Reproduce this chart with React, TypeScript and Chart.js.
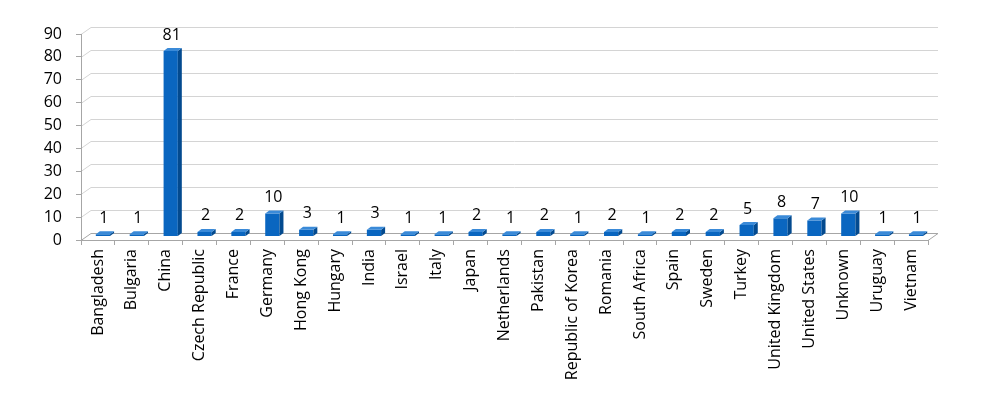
import React, { useEffect, useRef } from "react";
import { Chart, registerables } from "chart.js";

Chart.register(...registerables);

const categories = [
  "Bangladesh", "Bulgaria", "China", "Czech Republic", "France", "Germany",
  "Hong Kong", "Hungary", "India", "Israel", "Italy", "Japan", "Netherlands",
  "Pakistan", "Republic of Korea", "Romania", "South Africa", "Spain", "Sweden",
  "Turkey", "United Kingdom", "United States", "Unknown", "Uruguay", "Vietnam",
];
const counts = [1, 1, 81, 2, 2, 10, 3, 1, 3, 1, 1, 2, 1, 2, 1, 2, 1, 2, 2, 5, 8, 7, 10, 1, 1];
const yMin = 0;
const yMax = 90;
const yStep = 10;

const FONT = "'Open Sans', sans-serif";
const FONT_SIZE = 16;
const WALL_DX = 10;
const WALL_DY = -7;
const BAR_SHIFT_X = 5;
const BAR_SHIFT_Y = -3.5;
const BAR_DX = 4;
const BAR_DY = -3;
const FRONT = "#0a66c0";
const SIDE = "#034a8f";
const TOP = "#3a8ad8";
const GRID = "#d4d4d4";
const AXIS = "#a6a6a6";

const depthPlugin = {
  id: "depth3d",
  beforeDraw(chart: any) {
    const { ctx, chartArea } = chart;
    const ys = chart.scales.y;
    const { left, right } = chartArea;
    ctx.save();
    ctx.lineWidth = 1;
    ctx.strokeStyle = GRID;
    for (let v = yMin + yStep; v <= yMax; v += yStep) {
      const y = Math.round(ys.getPixelForValue(v)) + 0.5;
      ctx.beginPath();
      ctx.moveTo(left, y);
      ctx.lineTo(left + WALL_DX, y + WALL_DY);
      ctx.lineTo(right + WALL_DX, y + WALL_DY);
      ctx.stroke();
    }
    const y0 = Math.round(ys.getPixelForValue(yMin)) + 0.5;
    ctx.strokeStyle = AXIS;
    ctx.beginPath();
    ctx.moveTo(left, y0);
    ctx.lineTo(left + WALL_DX, y0 + WALL_DY);
    ctx.lineTo(right + WALL_DX, y0 + WALL_DY);
    ctx.lineTo(right, y0);
    ctx.stroke();
    ctx.restore();
  },
  beforeDatasetsDraw(chart: any) {
    chart.ctx.save();
    chart.ctx.translate(BAR_SHIFT_X, BAR_SHIFT_Y);
  },
  afterDatasetsDraw(chart: any) {
    const { ctx } = chart;
    const meta = chart.getDatasetMeta(0);
    meta.data.forEach((bar: any, i: number) => {
      const { x, y, base, width } = bar.getProps(["x", "y", "base", "width"], true);
      const x0 = x - width / 2;
      const x1 = x + width / 2;
      ctx.fillStyle = SIDE;
      ctx.beginPath();
      ctx.moveTo(x1, y);
      ctx.lineTo(x1 + BAR_DX, y + BAR_DY);
      ctx.lineTo(x1 + BAR_DX, base + BAR_DY);
      ctx.lineTo(x1, base);
      ctx.closePath();
      ctx.fill();
      ctx.fillStyle = TOP;
      ctx.beginPath();
      ctx.moveTo(x0, y);
      ctx.lineTo(x0 + BAR_DX, y + BAR_DY);
      ctx.lineTo(x1 + BAR_DX, y + BAR_DY);
      ctx.lineTo(x1, y);
      ctx.closePath();
      ctx.fill();
      ctx.fillStyle = "#000";
      ctx.font = `${FONT_SIZE}px ${FONT}`;
      ctx.textAlign = "center";
      ctx.textBaseline = "middle";
      ctx.fillText(String(counts[i]), x + 1, y - 16);
    });
    ctx.restore();
  },
};

export default function App() {
  const ref = useRef<HTMLCanvasElement>(null);
  useEffect(() => {
    if (!ref.current) return;
    const chart = new Chart(ref.current, {
      type: "bar",
      data: {
        labels: categories,
        datasets: [
          {
            data: counts,
            backgroundColor: FRONT,
            borderWidth: 0,
            barPercentage: 0.42,
            categoryPercentage: 1,
          },
        ],
      },
      options: {
        animation: false,
        responsive: true,
        maintainAspectRatio: false,
        layout: { padding: { left: 0, top: 34, right: 65, bottom: 0 } },
        plugins: { legend: { display: false }, tooltip: { enabled: false } },
        scales: {
          x: {
            grid: { drawOnChartArea: false, drawTicks: true, tickLength: 5, color: AXIS, offset: true },
            border: { display: true, color: AXIS },
            ticks: {
              color: "#000",
              font: { family: FONT, size: FONT_SIZE },
              minRotation: 90,
              maxRotation: 90,
              padding: 4,
              autoSkip: false,
            },
            afterFit: (s: any) => {
              s.height = 160;
            },
          },
          y: {
            min: yMin,
            max: yMax,
            grid: { drawOnChartArea: false, drawTicks: true, tickLength: 5, color: AXIS },
            border: { display: true, color: AXIS },
            ticks: {
              stepSize: yStep,
              color: "#000",
              font: { family: FONT, size: FONT_SIZE },
              padding: 14,
            },
            afterFit: (s: any) => {
              s.width = 81;
            },
          },
        },
      },
      plugins: [depthPlugin],
    });
    return () => chart.destroy();
  }, []);
  return (
    <div style={{ position: "fixed", left: 0, top: 0, width: 993, height: 400, background: "#fff" }}>
      <canvas ref={ref} />
    </div>
  );
}
